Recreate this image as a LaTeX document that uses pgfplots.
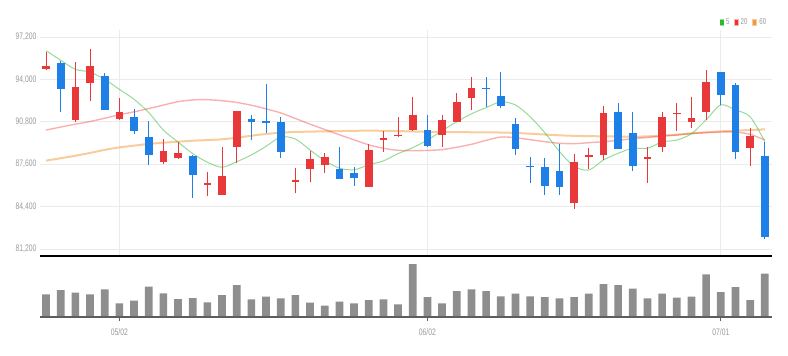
\documentclass[border=0pt]{standalone}
\usepackage{fontspec}
\setmainfont{Liberation Sans}
\newfontfamily\nf{Liberation Sans}[FakeStretch=0.72]
\usepackage{pgfplots}
\pgfplotsset{compat=1.18}
\usepackage{pgfplotstable}

\definecolor{upred}{HTML}{E8383A}
\definecolor{downblue}{HTML}{1E7FE6}
\definecolor{maf}{HTML}{2DB82D}
\definecolor{mat}{HTML}{EE3030}
\definecolor{mas}{HTML}{F29A3A}
\definecolor{volgray}{HTML}{8E8E8E}
\definecolor{gridc}{HTML}{EBEBEB}
\definecolor{labc}{HTML}{9A9A9A}
\definecolor{basec}{HTML}{5E5E5E}

% red (up) candles
\pgfplotstableread{
x o h l c
0 94800 96090 94710 95000
2 90940 95340 90800 93450
3 93750 96290 92390 95010
5 90990 92570 90950 91560
8 87740 89480 87600 88620
9 88050 89300 88000 88470
11 86050 87030 85220 86150
12 85270 88870 85270 86710
13 88870 91640 87720 91640
17 86280 87290 85400 86380
18 87260 88620 86230 88020
19 87520 88470 86960 88120
22 85900 89100 85900 88670
23 89450 90110 88540 89550
24 89700 91180 89630 89830
25 90180 92700 90130 91290
27 89800 91310 88870 90910
28 90760 93000 90760 92290
29 92620 94210 91690 93380
36 84650 88370 84220 87790
37 88150 88800 87210 88300
38 88300 91990 87920 91440
41 87980 88920 86210 88120
42 88870 91560 88540 91140
43 91380 92200 90130 91500
44 90810 92650 90310 91060
45 91560 94710 90940 93830
48 88820 90310 87460 89730
}\uptable

% blue (down) candles
\pgfplotstableread{
x o h l c
1 95215 95410 91540 93300
4 94260 94510 91690 91690
6 91190 91770 89880 90130
7 89680 90880 87540 88300
10 88220 88300 85050 86790
14 90990 91310 89430 90810
15 90880 93630 89930 90690
16 90760 91180 88050 88500
20 87260 88870 86480 86480
21 86910 87410 85950 86540
26 90180 91310 88870 88970
30 93380 94210 91940 93250
31 92770 94540 91820 91990
32 90610 91060 88300 88720
33 87500 88170 86160 87420
34 87410 88050 85280 85980
35 87110 89130 85280 85860
39 91560 92240 88720 88720
40 89930 91560 87110 87460
46 94580 94580 92070 92820
47 93580 93750 87970 88540
49 88220 89300 81930 82080
}\downtable

% moving averages
\pgfplotstableread{
x m5 m20 m60
0 96170 90180 87870
1 95450 90400 88050
2 94760 90620 88240
3 94550 90820 88450
4 94000 91070 88680
5 93250 91330 88870
6 92500 91550 89000
7 91500 91800 89130
8 90180 92060 89220
9 89270 92320 89300
10 88400 92450 89370
11 87750 92470 89420
12 87370 92390 89480
13 87790 92260 89600
14 88300 92050 89750
15 88950 91780 89880
16 89650 91470 89980
17 89500 91050 90030
18 88670 90620 90060
19 87880 90220 90080
20 87300 89820 90100
21 87180 89440 90120
22 87550 89060 90130
23 87850 88800 90120
24 88400 88650 90100
25 88850 88620 90070
26 89420 88640 90050
27 90130 88700 90040
28 90800 88880 90020
29 91400 89100 90010
30 91870 89400 90000
31 92300 89650 89990
32 92070 89600 89960
33 91180 89450 89900
34 89980 89300 89840
35 88560 89180 89780
36 87440 89150 89740
37 87160 89220 89720
38 87920 89300 89700
39 88420 89400 89690
40 88800 89530 89680
41 88800 89620 89700
42 89280 89720 89760
43 89420 89800 89830
44 89900 89920 89920
45 90950 89980 90010
46 92070 90030 90080
47 91690 90030 90130
48 91180 89850 90180
49 89300 89430 90230
}\matable

% volume (relative)
\pgfplotstableread{
x v
0 22.3
1 26.7
2 24
3 22.3
4 27.3
5 13.3
6 16
7 30
8 23.3
9 17.7
10 18.7
11 14.3
12 21.7
13 31.7
14 17.3
15 20
16 18.3
17 21.7
18 14
19 11
20 15
21 13.3
22 16.7
23 17.3
24 12.3
25 52.7
26 19.7
27 13.3
28 25.7
29 27.3
30 25.7
31 20.3
32 23
33 20.3
34 19.7
35 18.3
36 19.7
37 23
38 32.7
39 31.7
40 28
41 18.3
42 23
43 19
44 20
45 42.3
46 24.7
47 29.7
48 16.7
49 43
}\voltable

\begin{document}
\begin{tikzpicture}
\useasboundingbox (0bp,0bp) rectangle (788bp,356bp);

\begin{axis}[
  name=price,
  at={(40bp,100bp)}, anchor=south west,
  scale only axis, width=732bp, height=226bp,
  xmin=-0.41, xmax=49.49, ymin=80672, ymax=97728,
  xtick={5,26,46}, xticklabels={,,},
  ytick={81200,84400,87600,90800,94000,97200},
  scaled y ticks=false,
  grid=major, major grid style={draw=gridc, line width=0.9bp},
  axis line style={draw=none}, major tick length=0pt,
  yticklabel style={font=\nf\fontsize{9.5}{10}\selectfont, text=labc},
  /pgf/number format/fixed,
  /pgf/number format/precision=0,
  /pgf/number format/1000 sep={,},
  /pgf/number format/assume math mode=true,
  legend style={at={(rel axis cs:0.995,1)}, anchor=south east, yshift=1.5bp,
    draw=none, fill=none, inner sep=0pt, legend columns=-1,
    font=\nf\fontsize{8.5}{9}\selectfont, text=labc,
    /tikz/every even column/.append style={column sep=2.5bp}},
  legend image code/.code={\fill[#1, fill opacity=1] (0bp,-2.8bp) rectangle (3.4bp,2.8bp);},
  reverse legend,
]
% moving averages
\addplot[color=mas, line width=2bp, smooth, draw opacity=0.5] table[x=x,y=m60] {\matable};
\addplot[color=mat, line width=1.4bp, smooth, draw opacity=0.38] table[x=x,y=m20] {\matable};
\addplot[color=maf, line width=1bp, smooth, draw opacity=0.5] table[x=x,y=m5] {\matable};
% up candles
\addplot[draw=none, mark=none, forget plot,
  error bars/.cd, y dir=plus, y explicit, error mark=none,
  error bar style={draw=upred, line width=1bp}]
  table[x=x, y=l, y error plus expr=\thisrow{h}-\thisrow{l}] {\uptable};
\addplot[draw=none, mark=none, forget plot,
  error bars/.cd, y dir=plus, y explicit, error mark=none,
  error bar style={draw=upred, line width=7.7bp}]
  table[x=x, y=o, y error plus expr=\thisrow{c}-\thisrow{o}] {\uptable};
% down candles
\addplot[draw=none, mark=none, forget plot,
  error bars/.cd, y dir=plus, y explicit, error mark=none,
  error bar style={draw=downblue, line width=1bp}]
  table[x=x, y=l, y error plus expr=\thisrow{h}-\thisrow{l}] {\downtable};
\addplot[draw=none, mark=none, forget plot,
  error bars/.cd, y dir=plus, y explicit, error mark=none,
  error bar style={draw=downblue, line width=7.7bp}]
  table[x=x, y=c, y error plus expr=\thisrow{o}-\thisrow{c}] {\downtable};
\legend{60,20,5}
\end{axis}
\draw[black, line width=1.4bp] (price.south west) -- (price.south east);

\begin{axis}[
  name=vol,
  at={(40bp,39.3bp)}, anchor=south west,
  scale only axis, width=732bp, height=58bp,
  xmin=-0.41, xmax=49.49, ymin=0, ymax=58,
  axis line style={draw=none},
  ytick=\empty,
  xtick={5,26,46}, xticklabels={05/02,06/02,07/01},
  tick align=outside, major tick length=4bp,
  xtick pos=bottom,
  tick style={draw=basec, line width=0.9bp},
  xticklabel style={font=\nf\fontsize{9.5}{10}\selectfont, text=labc, yshift=-4bp},
]
\addplot[ybar, bar width=7.7bp, fill=volgray, draw=none] table[x=x,y=v] {\voltable};
\end{axis}
\draw[basec, line width=2bp] (vol.south west) -- (vol.south east);
\end{tikzpicture}
\end{document}
